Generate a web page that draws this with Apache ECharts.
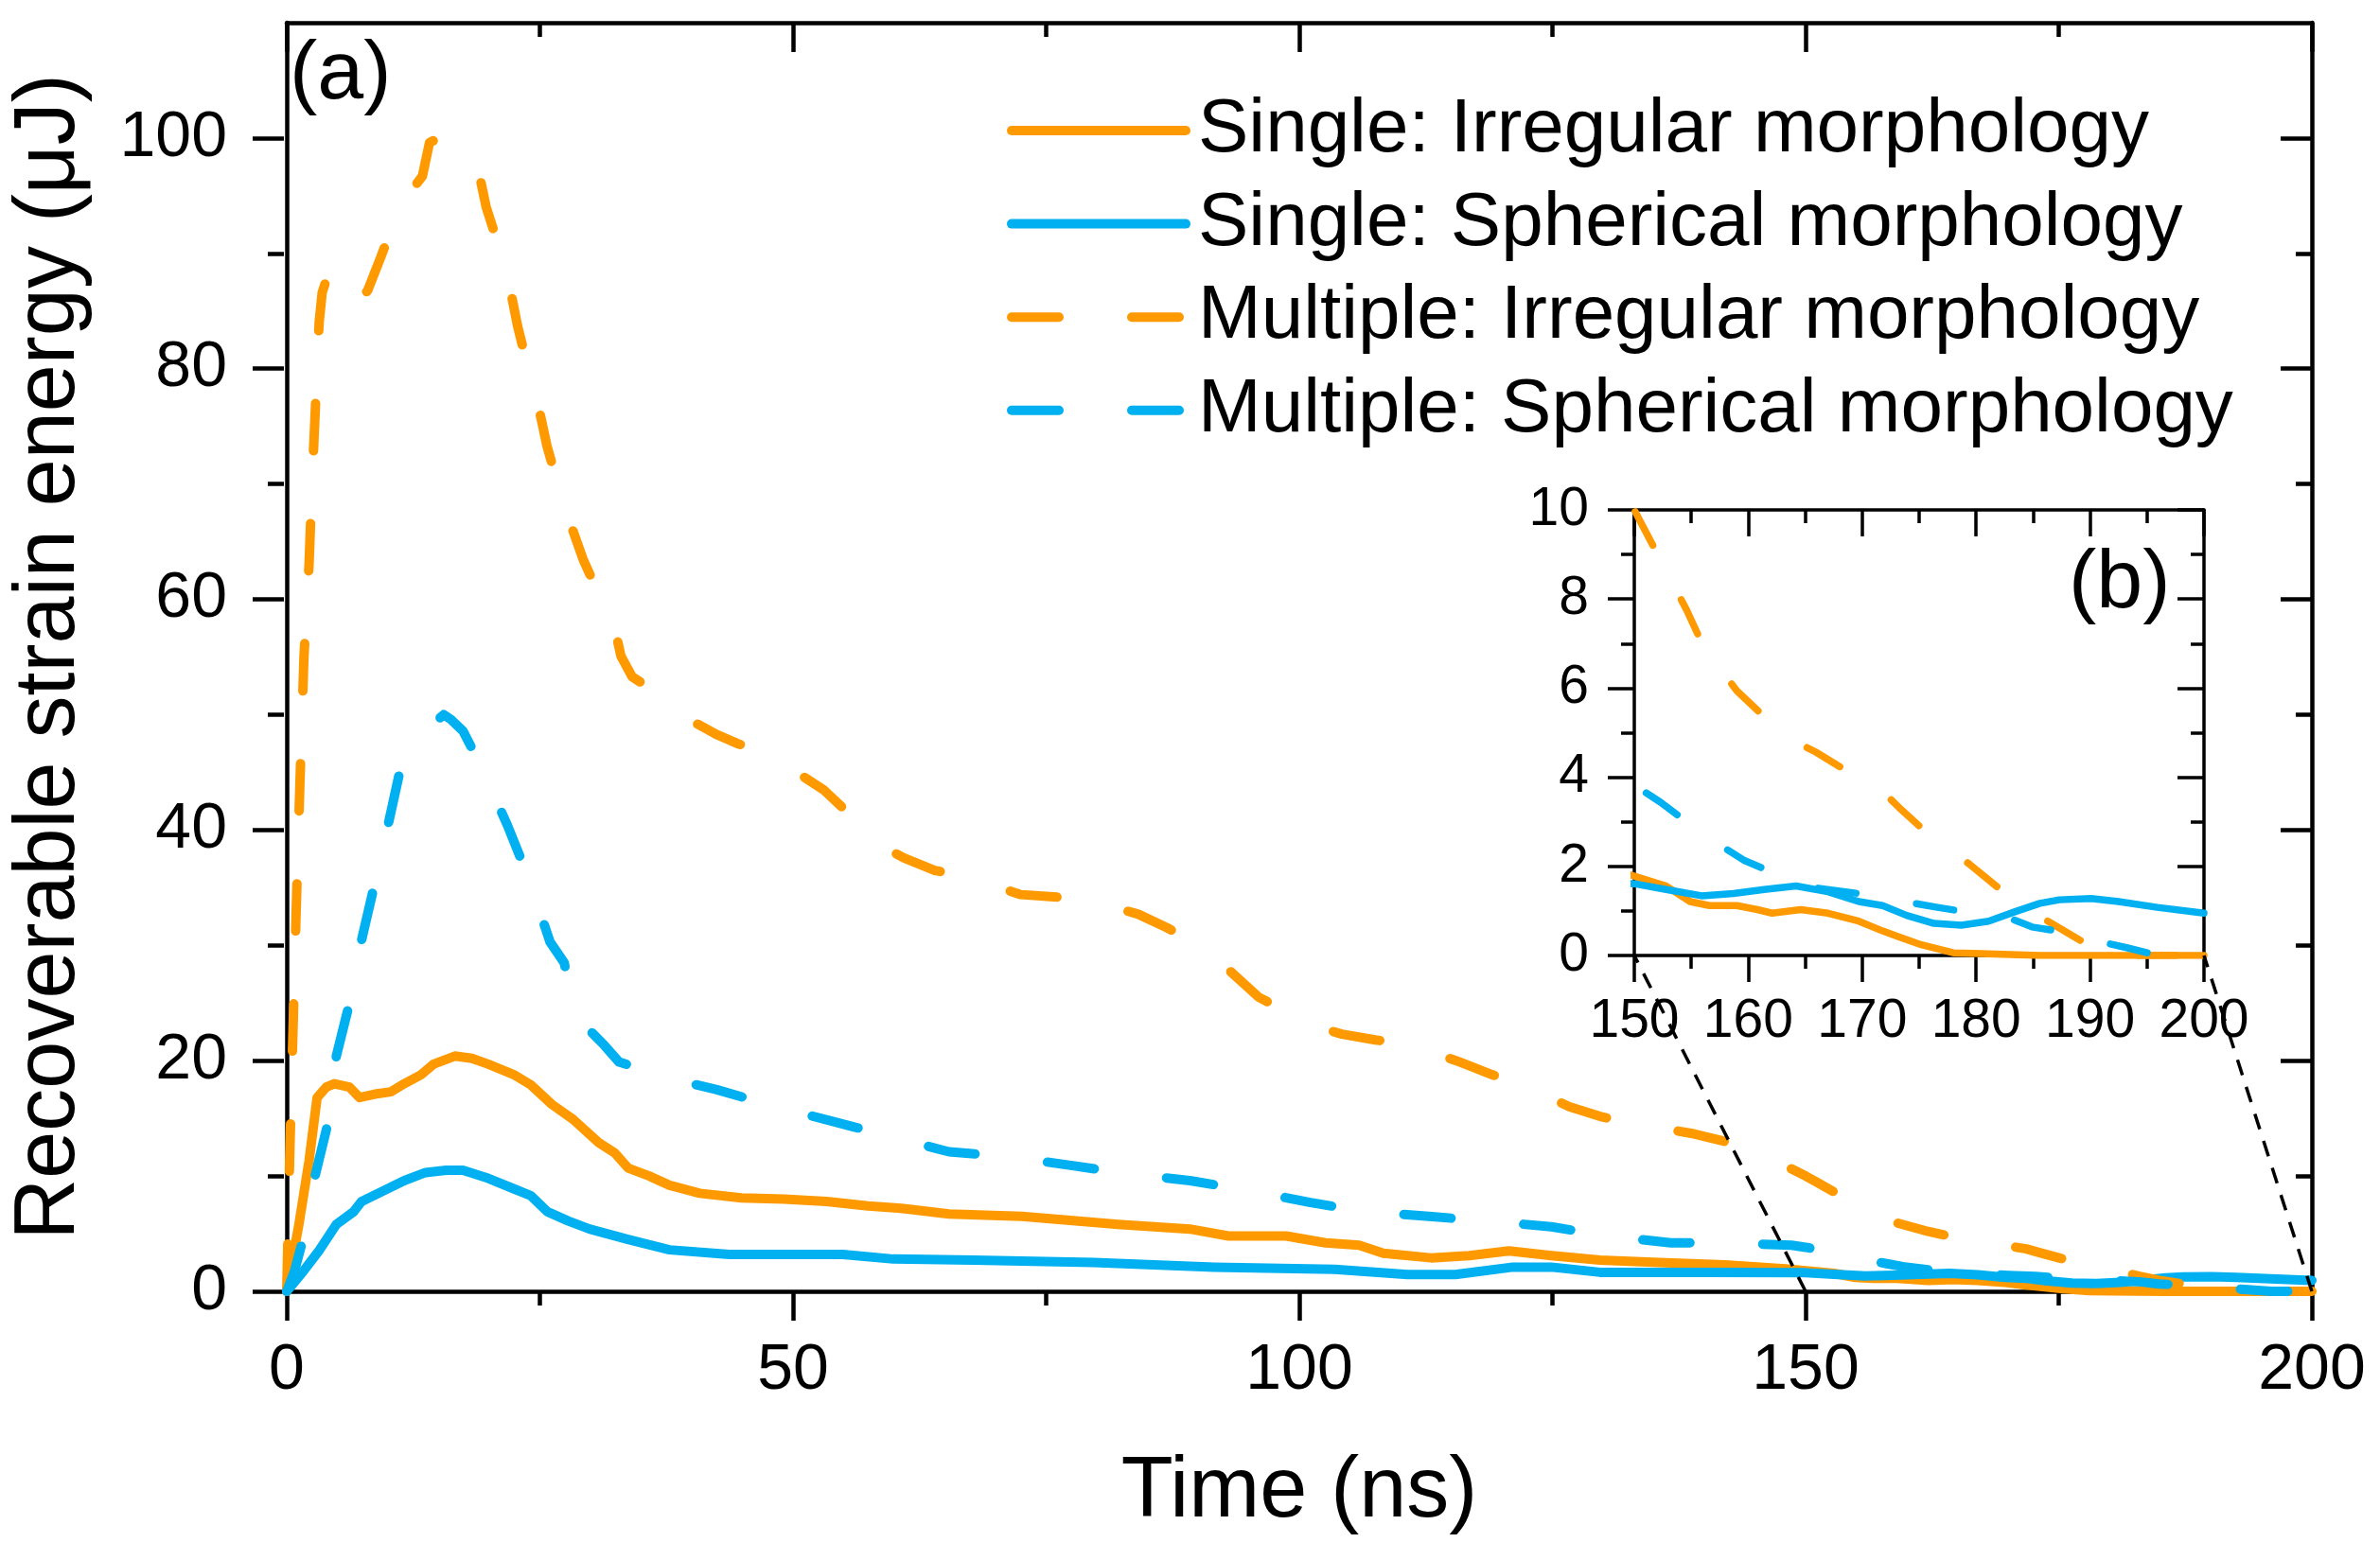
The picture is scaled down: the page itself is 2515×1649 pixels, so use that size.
<!DOCTYPE html>
<html><head><meta charset="utf-8">
<script src="https://cdn.jsdelivr.net/npm/echarts@6/dist/echarts.min.js"></script>
<style>html,body{margin:0;padding:0;background:#fff}#c{width:2515px;height:1649px}</style>
</head><body><div id="c"></div>
<script>
// ---------------- data ----------------
const seriesNames = [
  'Single: Irregular morphology',
  'Single: Spherical morphology',
  'Multiple: Irregular morphology',
  'Multiple: Spherical morphology'
];
const seriesColors = ['#FF9900', '#00B0F0', '#FF9900', '#00B0F0'];

const singleIrrTime = [0,1.2,2.2,3.0,3.9,4.7,6.2,7.2,8.7,10.3,11.6,13.3,14.5,16.6,18.3,19.9,22.4,24.1,26.2,28.3,30.8,32.4,33.7,35.8,37.8,40.8,44.9,49.1,53.3,57.4,60.7,65.4,72.6,82.1,89.2,93.0,98.7,102.6,105.9,108.3,113.0,116.8,120.7,124.9,129.7,135.5,142,148,
  150,152.8,154.9,156.6,159.0,160.8,162.1,164.6,167.0,169.7,171.8,173.2,175.2,178.0,180.4,185.6,190,200];
const singleIrrValue = [0,5.8,11.3,16.8,17.7,18.0,17.7,16.8,17.1,17.3,18.0,18.8,19.7,20.4,20.2,19.7,18.8,17.9,16.2,14.9,12.9,12.0,10.7,10.0,9.2,8.5,8.1,8.0,7.8,7.4,7.2,6.7,6.5,5.8,5.4,4.8,4.8,4.2,4.0,3.3,2.9,3.1,3.5,3.1,2.7,2.5,2.3,1.95,
  1.78,1.56,1.21,1.12,1.12,1.03,0.95,1.03,0.95,0.77,0.55,0.42,0.24,0.06,0.04,0,0,0];

const singleSphTime = [0,1.6,3.25,4.9,6.6,7.4,9.5,11.6,13.7,15.75,17.4,19.9,22.4,24.1,25.75,27.8,29.9,33.7,37.8,43.7,54.9,59.9,67.8,79.7,91.6,103.5,110.7,115.4,121.1,124.9,129.7,135.3,140.3,
  150,152.8,155.9,158.7,161.4,164.2,167.0,169.7,171.8,173.9,176.3,178.7,181.1,183.5,185.6,187.3,190.1,192.5,195.9,200];
const singleSphValue = [0,1.7,3.6,5.8,6.9,7.8,8.7,9.6,10.3,10.5,10.5,9.8,8.9,8.3,6.9,6.1,5.4,4.5,3.6,3.2,3.2,2.8,2.7,2.5,2.1,1.9,1.45,1.45,2.1,2.1,1.65,1.65,1.65,
  1.61,1.48,1.34,1.39,1.48,1.56,1.43,1.21,1.12,0.90,0.72,0.68,0.77,0.99,1.17,1.25,1.28,1.21,1.08,0.95];

const multiIrrTime = [0,0.3,0.6,0.9,1.3,1.7,2.2,2.5,2.9,3.2,3.5,4.2,5.5,7.0,8.0,9.3,10.7,12.0,13.4,14.1,15.0,16.5,18.4,19.1,19.7,20.8,21.8,22.8,23.7,24.6,25.7,26.6,27.6,29.3,30.8,32.4,33.0,34.1,36.0,38.0,39.7,42.4,44.5,47.4,50,53,56.4,59.0,60.9,64,67.3,72.5,78.9,84.1,87,89.1,93.0,96,98.9,101.9,104.2,107.5,110.9,115.8,119,122.2,126.7,130,133.4,138.7,142,145.0,
  150,150.9,152.8,154.6,156.6,157.7,159.0,162.1,164.2,165.9,170.2,171.8,173.2,176.4,177.7,179.4,183.0,184.9,186.3,190.4,191.6,200];
const multiIrrValue = [0,12,22,32,44,55,63,70,78,84,86.6,88.5,86.5,85.7,86.8,89.7,93,95.1,96.7,99.6,100,99.5,98.4,96.5,94.0,91,88.1,83.7,80.5,77.8,73.3,70.5,67.6,63.4,60.5,57.5,55.1,53.3,52.2,51.4,49.6,48.3,47.5,46.7,45.2,43.5,40.7,38.5,37.6,36.5,35.9,34.4,34.0,32.7,31.5,30.5,27.9,25.5,24.2,22.9,22.3,21.8,21.4,19.9,18.8,17.8,16.0,15.1,14.5,13.7,13.0,12.2,
  10.0,9.56,8.63,7.75,6.64,6.38,5.94,5.19,4.79,4.57,3.9,3.68,3.33,2.58,2.40,2.05,1.30,0.95,0.77,0.15,0,0];

const multiSphTime = [0,0.75,1.6,2.8,4.1,4.9,6.2,7.4,8.7,10.1,11.2,13.5,15.5,16.2,17.4,19.1,21.8,23.9,26.0,27.4,28.0,29.5,31.4,32.8,36.0,39,42.4,47.6,51,54.1,59.3,65.4,71.1,77.6,83.0,89.2,94.7,101.1,106.6,112.8,118.5,124.9,130.4,136.7,142.2,148.6,
  150,152.3,156.1,158.0,159.6,165,170,172.7,174.6,176.6,181.1,183.2,184.9,189.4,191.4,193.3,196,200];
const multiSphValue = [0,1.7,4.5,10.0,14.7,20.4,25.0,30.5,35.4,40.8,45.2,48.5,50,49.6,48.6,45.7,40.4,35.8,30.3,28.5,25.9,23,21.3,19.9,19.0,18.2,17.5,16.2,15.4,14.7,13.5,12.1,11.7,10.9,10.2,9.6,8.8,7.7,6.9,6.5,6.1,5.6,4.8,4.2,4.2,4.0,
  3.82,3.44,2.71,2.40,2.14,1.55,1.38,1.30,1.17,1.08,0.90,0.81,0.64,0.46,0.28,0.17,0,0];

const seriesTimes = [singleIrrTime, singleSphTime, multiIrrTime, multiSphTime];
const seriesValues = [singleIrrValue, singleSphValue, multiIrrValue, multiSphValue];
const seriesDashed = [false, false, true, true];

// axes
const mainX = {min: 0, max: 200, interval: 50};
const mainY = {min: 0, max: 110, tickMax: 100, interval: 20};
const insetX = {min: 150, max: 200, interval: 10};
const insetY = {min: 0, max: 10, interval: 2};
const xTitle = 'Time (ns)';
const yTitle = 'Recoverable strain energy (μJ)';

// ---------------- layout ----------------
const FONT = "'Liberation Sans', Arial, Helvetica, sans-serif";
const MAIN = {left: 300, right: 72, top: 24, bottom: 284};
const H = 1649;
const mainPlotH = H - MAIN.top - MAIN.bottom;
const tickGridTop = MAIN.top + (mainY.max - mainY.tickMax) / (mainY.max - mainY.min) * mainPlotH;
const INSET = {left: 1727, top: 539, width: 602, height: 471};

const zip = (t, v) => t.map((x, i) => [x, v[i]]);

function axisCommon(o) {
  return Object.assign({
    type: 'value',
    splitLine: {show: false},
    axisLine: {show: true, onZero: false, lineStyle: {color: '#000', width: 4.5}},
  }, o);
}

const xAxes = [
  axisCommon({gridIndex: 0, position: 'bottom', min: mainX.min, max: mainX.max, interval: mainX.interval,
    axisTick: {show: true, inside: false, length: 31, lineStyle: {color: '#000', width: 4.5}},
    minorTick: {show: true, splitNumber: 2, length: 15, lineStyle: {color: '#000', width: 4.5}},
    axisLabel: {show: true, margin: 50, color: '#000', fontSize: 68, fontFamily: FONT},
    name: xTitle, nameLocation: 'middle', nameGap: 168,
    nameTextStyle: {color: '#000', fontSize: 90, fontFamily: FONT}}),
  axisCommon({gridIndex: 0, position: 'top', min: mainX.min, max: mainX.max, interval: mainX.interval,
    axisTick: {show: true, inside: true, length: 31, lineStyle: {color: '#000', width: 4.5}},
    minorTick: {show: true, splitNumber: 2, length: 15, lineStyle: {color: '#000', width: 4.5}},
    axisLabel: {show: false}}),
  axisCommon({gridIndex: 1, position: 'bottom', min: insetX.min, max: insetX.max, interval: insetX.interval,
    axisLine: {show: true, onZero: false, lineStyle: {color: '#000', width: 3.5}},
    axisTick: {show: true, inside: false, length: 28, lineStyle: {color: '#000', width: 3.5}},
    minorTick: {show: true, splitNumber: 2, length: 14, lineStyle: {color: '#000', width: 3.5}},
    axisLabel: {show: true, margin: 42, color: '#000', fontSize: 57, fontFamily: FONT}}),
  axisCommon({gridIndex: 1, position: 'top', min: insetX.min, max: insetX.max, interval: insetX.interval,
    axisLine: {show: true, onZero: false, lineStyle: {color: '#000', width: 3.5}},
    axisTick: {show: true, inside: true, length: 28, lineStyle: {color: '#000', width: 3.5}},
    minorTick: {show: true, splitNumber: 2, length: 14, lineStyle: {color: '#000', width: 3.5}},
    axisLabel: {show: false}}),
  axisCommon({gridIndex: 2, min: mainX.min, max: mainX.max, show: false})
];

const yAxes = [
  axisCommon({gridIndex: 0, position: 'left', min: mainY.min, max: mainY.max,
    axisTick: {show: false}, axisLabel: {show: false},
    name: yTitle, nameLocation: 'middle', nameGap: 205, nameRotate: 90,
    nameTextStyle: {color: '#000', fontSize: 90, fontFamily: FONT}}),
  axisCommon({gridIndex: 0, position: 'right', min: mainY.min, max: mainY.max,
    axisTick: {show: false}, axisLabel: {show: false}}),
  axisCommon({gridIndex: 1, position: 'left', min: insetY.min, max: insetY.max, interval: insetY.interval,
    axisLine: {show: true, onZero: false, lineStyle: {color: '#000', width: 3.5}},
    axisTick: {show: true, inside: false, length: 28, lineStyle: {color: '#000', width: 3.5}},
    minorTick: {show: true, splitNumber: 2, length: 14, lineStyle: {color: '#000', width: 3.5}},
    axisLabel: {show: true, margin: 48, color: '#000', fontSize: 57, fontFamily: FONT}}),
  axisCommon({gridIndex: 1, position: 'right', min: insetY.min, max: insetY.max, interval: insetY.interval,
    axisLine: {show: true, onZero: false, lineStyle: {color: '#000', width: 3.5}},
    axisTick: {show: true, inside: true, length: 28, lineStyle: {color: '#000', width: 3.5}},
    minorTick: {show: true, splitNumber: 2, length: 14, lineStyle: {color: '#000', width: 3.5}},
    axisLabel: {show: false}}),
  axisCommon({gridIndex: 2, position: 'left', min: mainY.min, max: mainY.tickMax, interval: mainY.interval,
    axisLine: {show: false},
    axisTick: {show: true, inside: false, length: 33, lineStyle: {color: '#000', width: 4.5}},
    minorTick: {show: true, splitNumber: 2, length: 17, lineStyle: {color: '#000', width: 4.5}},
    axisLabel: {show: true, margin: 60, color: '#000', fontSize: 68, fontFamily: FONT}}),
  axisCommon({gridIndex: 2, position: 'right', min: mainY.min, max: mainY.tickMax, interval: mainY.interval,
    axisLine: {show: false},
    axisTick: {show: true, inside: true, length: 33, lineStyle: {color: '#000', width: 4.5}},
    minorTick: {show: true, splitNumber: 2, length: 17, lineStyle: {color: '#000', width: 4.5}},
    axisLabel: {show: false}})
];

function buildSeries(connectors) {
  const out = [];
  seriesNames.forEach((name, i) => {
    out.push({
      name, type: 'line', xAxisIndex: 0, yAxisIndex: 0, symbol: 'none', z: 3 + i,
      data: zip(seriesTimes[i], seriesValues[i]),
      lineStyle: {color: seriesColors[i], width: 10, cap: 'round', join: 'round',
        type: seriesDashed[i] ? [50, 77] : 'solid'},
      itemStyle: {color: seriesColors[i]}
    });
  });
  seriesNames.forEach((name, i) => {
    out.push({
      name, type: 'line', xAxisIndex: 2, yAxisIndex: 2, symbol: 'none', z: 3 + i,
      data: zip(seriesTimes[i], seriesValues[i]),
      lineStyle: {color: seriesColors[i], width: 7.5, cap: 'round', join: 'round',
        type: seriesDashed[i] ? [40, 65] : 'solid'},
      itemStyle: {color: seriesColors[i]}
    });
  });
  (connectors || []).forEach((c, k) => {
    out.push({
      name: 'zoom' + k, type: 'line', xAxisIndex: 0, yAxisIndex: 0, symbol: 'none', clip: false, z: 10,
      data: c, silent: true,
      lineStyle: {color: '#000', width: 3.5, type: [17, 13]}
    });
  });
  return out;
}

const chart = echarts.init(document.getElementById('c'), null, {renderer: 'canvas'});
const option = {
  animation: false,
  backgroundColor: '#fff',
  grid: [
    {left: MAIN.left, right: MAIN.right, top: MAIN.top, bottom: MAIN.bottom, containLabel: false},
    {left: INSET.left, top: INSET.top, width: INSET.width, height: INSET.height, show: true,
      backgroundColor: '#fff', borderWidth: 0, containLabel: false},
    {left: MAIN.left, right: MAIN.right, top: tickGridTop, bottom: MAIN.bottom, containLabel: false}
  ],
  xAxis: xAxes,
  yAxis: yAxes,
  legend: {
    data: seriesNames, orient: 'vertical', left: 1059, top: 93,
    itemWidth: 184, itemHeight: 12, itemGap: 18.6,
    itemStyle: {opacity: 0},
    lineStyle: {width: 10, cap: 'round'},
    textStyle: {color: '#000', fontSize: 80, fontFamily: FONT, lineHeight: 80, padding: [0, 0, 0, 8]}
  },
  graphic: [
    {type: 'text', left: 306, top: 36, style: {text: '(a)', font: '88px ' + FONT, fill: '#000'}},
    {type: 'text', left: 2186, top: 574, style: {text: '(b)', font: '88px ' + FONT, fill: '#000'}}
  ],
  series: buildSeries([])
};
chart.setOption(option);

// connectors between inset corners and main axis range
const bl = chart.convertToPixel({xAxisIndex: 2, yAxisIndex: 2}, [insetX.min, insetY.min]);
const br = chart.convertToPixel({xAxisIndex: 2, yAxisIndex: 2}, [insetX.max, insetY.min]);
const blData = chart.convertFromPixel({xAxisIndex: 0, yAxisIndex: 0}, bl);
const brData = chart.convertFromPixel({xAxisIndex: 0, yAxisIndex: 0}, br);
chart.setOption({series: buildSeries([
  [[insetX.min, 0], blData],
  [[insetX.max, 0], brData]
])});
</script></body></html>
